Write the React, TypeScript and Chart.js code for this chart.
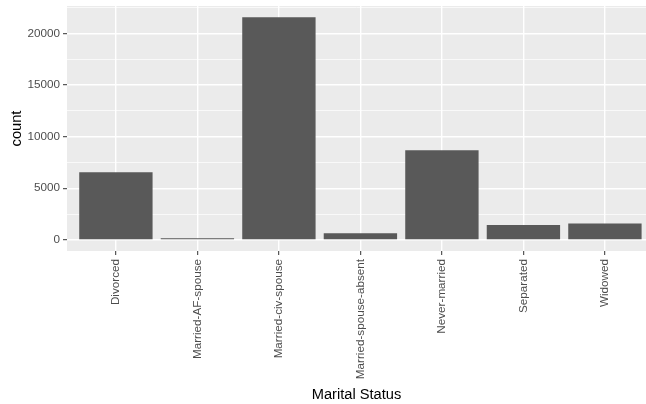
import React, { useEffect, useRef } from "react";
import { Chart, registerables } from "chart.js";

Chart.register(...registerables);

const categories = [
  "Divorced",
  "Married-AF-spouse",
  "Married-civ-spouse",
  "Married-spouse-absent",
  "Never-married",
  "Separated",
  "Widowed",
];
const counts = [6550, 150, 21564, 650, 8680, 1450, 1580];
const yTicks = [0, 2500, 5000, 7500, 10000, 12500, 15000, 17500, 20000, 22500];
const yMajor = [0, 5000, 10000, 15000, 20000];

const FONT = "'Liberation Sans', Arial, sans-serif";

const panelBg = {
  id: "panelBg",
  beforeDraw(chart: any) {
    const { ctx, chartArea } = chart;
    if (!chartArea) return;
    ctx.save();
    ctx.fillStyle = "#EBEBEB";
    ctx.fillRect(chartArea.left, chartArea.top, chartArea.right - chartArea.left, chartArea.bottom - chartArea.top);
    ctx.restore();
  },
};

export default function App() {
  const ref = useRef<HTMLCanvasElement | null>(null);

  useEffect(() => {
    if (!ref.current) return;
    const maxV = Math.max(...counts);
    const chart = new Chart(ref.current, {
      type: "bar",
      data: {
        datasets: [
          {
            data: counts.map((v, i) => ({ x: i, y: v })),
            backgroundColor: "#595959",
            borderWidth: 0,
            barPercentage: 0.9,
            categoryPercentage: 1,
          },
        ],
      },
      options: {
        animation: false,
        responsive: true,
        maintainAspectRatio: false,
        layout: { padding: { top: 6, left: 0, right: 0, bottom: 0 } },
        plugins: { legend: { display: false }, tooltip: { enabled: false } },
        scales: {
          x: {
            type: "linear",
            offset: false,
            min: -0.6,
            max: 6.504,
            afterBuildTicks: (scale: any) => {
              scale.ticks = categories.map((_, i) => ({ value: i }));
            },
            afterFit: (scale: any) => {
              scale.height = 153;
              scale.paddingLeft = 0;
              scale.paddingRight = 0;
              scale.paddingTop = 0;
              scale.paddingBottom = 0;
            },
            border: { display: false },
            grid: {
              offset: false,
              color: "#FFFFFF",
              lineWidth: 1.4,
              drawTicks: true,
              tickLength: 4,
              tickColor: "#333333",
              tickWidth: 1,
            },
            ticks: {
              autoSkip: false,
              minRotation: 90,
              maxRotation: 90,
              padding: 4,
              color: "#4D4D4D",
              font: { family: FONT, size: 11.7 },
              callback: (v: any) => categories[Number(v)] ?? "",
            },
            title: {
              display: true,
              text: "Marital Status",
              color: "#000000",
              font: { family: FONT, size: 14.67 },
              padding: { top: 0, bottom: 0 },
            },
          },
          y: {
            type: "linear",
            min: -0.05 * maxV,
            max: 1.05 * maxV,
            afterBuildTicks: (scale: any) => {
              scale.ticks = yTicks.map((v) => ({ value: v }));
            },
            afterFit: (scale: any) => {
              scale.width = 67;
              scale.paddingLeft = 0;
              scale.paddingRight = 0;
              scale.paddingTop = 0;
              scale.paddingBottom = 0;
            },
            border: { display: false },
            grid: {
              color: "#FFFFFF",
              lineWidth: (ctx: any) => (yMajor.includes(ctx.tick?.value) ? 1.4 : 0.7),
              drawTicks: true,
              tickLength: 4,
              tickColor: (ctx: any) => (yMajor.includes(ctx.tick?.value) ? "#333333" : "rgba(0,0,0,0)"),
              tickWidth: 1,
            },
            ticks: {
              autoSkip: false,
              padding: 3,
              color: "#4D4D4D",
              font: { family: FONT, size: 11.7 },
              callback: (v: any) => (yMajor.includes(Number(v)) ? String(v) : ""),
            },
            title: {
              display: true,
              text: "count",
              color: "#000000",
              font: { family: FONT, size: 14.67 },
              padding: { top: 8, bottom: 0 },
            },
          },
        },
      },
      plugins: [panelBg],
    } as any);
    return () => chart.destroy();
  }, []);

  return (
    <div style={{ position: "absolute", left: 0, top: 0, width: 646, height: 404 }}>
      <canvas ref={ref} />
    </div>
  );
}
